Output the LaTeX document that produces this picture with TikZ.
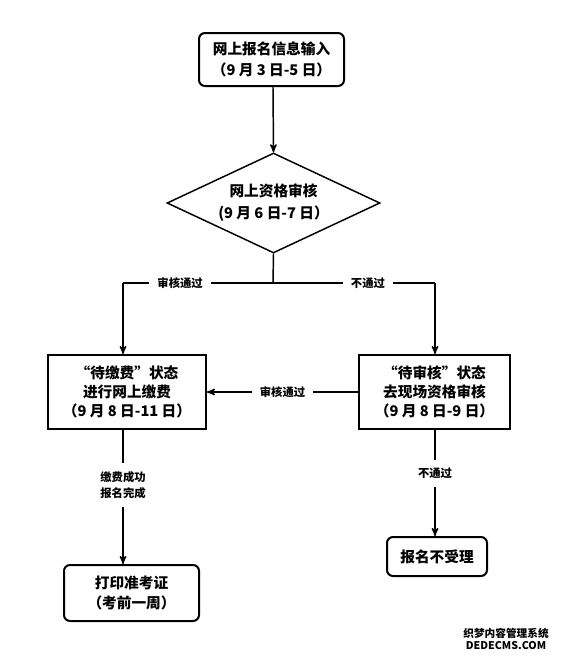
\documentclass[tikz,border=0pt]{standalone}
\usepackage{fontspec}
\setmainfont{Noto Sans CJK SC}
\usetikzlibrary{arrows,shapes,positioning}

\begin{document}
\begin{tikzpicture}[
	x=0.75pt, y=-0.75pt,
	->,
	>=stealth',
	semithick,
	line width=1.1pt,
	stepbox/.style={draw, line width=1.5pt, inner sep=2pt, align=center,
		font=\fontsize{11}{15.5}\selectfont\bfseries},
	endbox/.style={stepbox, rounded corners=4.5pt},
	checkbox/.style={draw, shape=diamond, aspect=2.13, inner sep=0pt, line width=1.1pt,
		align=center, font=\fontsize{11}{16.5}\selectfont\bfseries},
	lbl/.style={fill=white, inner sep=6pt, align=center,
		font=\fontsize{8.5}{12}\selectfont\bfseries}
  ]

  \useasboundingbox (0,0) rectangle (566,661);

  \node[endbox, minimum width=108.75pt, minimum height=39.75pt] (input) at (271.5,59.5)
		{网上报名信息输入\\（9 月 3 日-5 日）};
  \node[checkbox, minimum width=159.75pt, minimum height=75pt] (check) at (273.5,203)
		{网上资格审核\\(9 月 6 日-7 日）};
  \node[stepbox, minimum width=118.5pt, minimum height=55.5pt, font=\fontsize{11}{14}\selectfont\bfseries] (pay) at (127,392)
		{“待缴费”状态\\进行网上缴费\\（9 月 8 日-11 日）};
  \node[stepbox, minimum width=113.25pt, minimum height=55.5pt, font=\fontsize{11}{14}\selectfont\bfseries] (onsite) at (434.5,392)
		{“待审核”状态\\去现场资格审核\\（9 月 8 日-9 日）};
  \node[endbox, minimum width=101.25pt, minimum height=42pt] (print) at (131.5,593)
		{打印准考证\\（考前一周）};
  \node[endbox, minimum width=75pt, minimum height=29.25pt] (reject) at (437,556.5)
		{报名不受理};

  \coordinate (join) at (273,283);
  \coordinate (passL) at (123,283);
  \coordinate (failR) at (435,283);

  \draw[-] (check.south) -- (join);
  \draw[-] (passL) -- node[lbl, pos=0.183] (passlbl) {审核通过}
		node[lbl, pos=0.785] (faillbl) {不通过} (failR);

  \path (input.south -| join) 	edge 				(check.north)
        (passL) 		edge 				(pay.north -| passL)
        (failR) 		edge 				(onsite.north -| failR)
        (onsite) 		edge node[lbl] {审核通过} 	(pay)
        (pay.south -| passL) 	edge node[lbl, pos=0.41] {缴费成功\\报名完成} 	(print.north -| passL)
        (onsite.south -| failR) edge node[lbl, pos=0.41] {不通过} 	(reject.north -| failR);

  \node[align=center, inner sep=0pt, font=\fontsize{8}{9}\bfseries] (mark) at (506,639)
		{织梦内容管理系统\\DEDECMS.COM};

\end{tikzpicture}
\end{document}
